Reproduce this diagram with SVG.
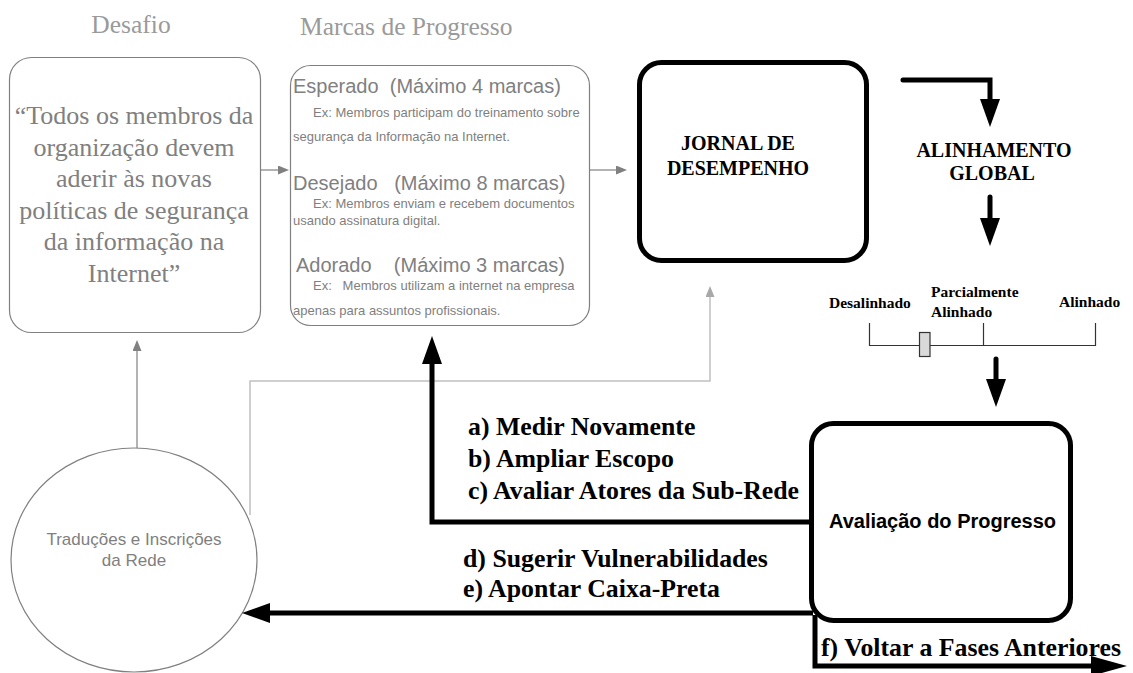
<svg xmlns="http://www.w3.org/2000/svg" width="1133" height="673" viewBox="0 0 1133 673">
  <style>
    .soft { fill: #ffffff; stroke: #808080; stroke-width: 1.2; }
    .bold-box { fill: #ffffff; stroke: #000000; stroke-width: 5; }
    .title { font-family: "Liberation Serif", "Times New Roman", serif; font-size: 25.5px; fill: #9a9a9a; }
    .quote { font-family: "Liberation Serif", "Times New Roman", serif; font-size: 26px; fill: #808080; text-anchor: middle; }
    .head { font-family: "Liberation Sans", Arial, sans-serif; font-size: 20px; fill: #808080; }
    .ex { font-family: "Liberation Sans", Arial, sans-serif; font-size: 13px; fill: #808080; }
    .node-b { font-family: "Liberation Serif", "Times New Roman", serif; font-size: 20px; font-weight: bold; fill: #000; text-anchor: middle; }
    .scale-lbl { font-family: "Liberation Serif", "Times New Roman", serif; font-size: 15.5px; font-weight: bold; fill: #000; }
    .step { font-family: "Liberation Serif", "Times New Roman", serif; font-size: 25.8px; font-weight: bold; fill: #000; }
    .thick { fill: none; stroke: #000; stroke-width: 5; stroke-linejoin: miter; }
    .thin-gray { fill: none; stroke: #808080; stroke-width: 1.2; }
    .light-gray { fill: none; stroke: #c0c0c0; stroke-width: 1.5; }
  </style>
  <defs>
    <marker id="head-black" viewBox="0 0 28 20" markerWidth="28" markerHeight="20" refX="1" refY="10" orient="auto" markerUnits="userSpaceOnUse">
      <path d="M0,0 L28,10 L0,20 z" fill="#000"/>
    </marker>
    <marker id="head-black-long" viewBox="0 0 36 20" markerWidth="36" markerHeight="20" refX="1" refY="10" orient="auto" markerUnits="userSpaceOnUse">
      <path d="M0,0 L36,10 L0,20 z" fill="#000"/>
    </marker>
    <marker id="head-gray" viewBox="0 0 11 9" markerWidth="11" markerHeight="9" refX="1" refY="4.5" orient="auto" markerUnits="userSpaceOnUse">
      <path d="M0,0 L11,4.5 L0,9 z" fill="#808080"/>
    </marker>
    <marker id="head-light" viewBox="0 0 11 9" markerWidth="11" markerHeight="9" refX="1" refY="4.5" orient="auto" markerUnits="userSpaceOnUse">
      <path d="M0,0 L11,4.5 L0,9 z" fill="#a8a8a8"/>
    </marker>
  </defs>

  <rect width="1133" height="673" fill="#ffffff"/>

  <!-- column titles -->
  <text class="title" x="131" y="33" text-anchor="middle">Desafio</text>
  <text class="title" x="300" y="35">Marcas de Progresso</text>

  <g id="desafio">
    <rect class="soft" x="9.5" y="57.5" width="251" height="275" rx="22"/>
    <text class="quote" x="134" y="124">“Todos os membros da</text>
    <text class="quote" x="134" y="155.5">organização devem</text>
    <text class="quote" x="134" y="187">aderir às novas</text>
    <text class="quote" x="134" y="218.5">políticas de segurança</text>
    <text class="quote" x="134" y="250">da informação na</text>
    <text class="quote" x="134" y="281.5">Internet”</text>
  </g>

  <g id="marcas">
    <rect class="soft" x="290.5" y="65.5" width="299" height="260" rx="20"/>
    <text class="head" x="293" y="93" xml:space="preserve">Esperado  (Máximo 4 marcas)</text>
    <text class="ex" x="313" y="117">Ex: Membros participam do treinamento sobre</text>
    <text class="ex" x="293" y="141">segurança da Informação na Internet.</text>
    <text class="head" x="293" y="190" xml:space="preserve">Desejado   (Máximo 8 marcas)</text>
    <text class="ex" x="313" y="208">Ex: Membros enviam e recebem documentos</text>
    <text class="ex" x="293" y="225">usando assinatura digital.</text>
    <text class="head" x="296" y="272" xml:space="preserve">Adorado    (Máximo 3 marcas)</text>
    <text class="ex" x="313" y="290" xml:space="preserve">Ex:   Membros utilizam a internet na empresa</text>
    <text class="ex" x="293" y="315">apenas para assuntos profissionais.</text>
  </g>

  <g id="jornal">
    <rect class="bold-box" x="639.5" y="62.5" width="227" height="198" rx="22"/>
    <text class="node-b" x="738" y="150">JORNAL DE</text>
    <text class="node-b" x="738" y="175">DESEMPENHO</text>
  </g>

  <g id="alinhamento">
    <text class="node-b" x="994" y="157">ALINHAMENTO</text>
    <text class="node-b" x="992" y="180">GLOBAL</text>
  </g>

  <g id="escala">
    <path d="M869.5,323 V345.5 H1095.5 V323 M983.5,323 V345.5" fill="none" stroke="#333" stroke-width="1.2"/>
    <rect x="919.5" y="332.5" width="10.5" height="24" fill="#d9d9d9" stroke="#333" stroke-width="1.2"/>
    <text class="scale-lbl" x="829" y="308">Desalinhado</text>
    <text class="scale-lbl" x="931" y="297">Parcialmente</text>
    <text class="scale-lbl" x="931" y="317">Alinhado</text>
    <text class="scale-lbl" x="1059" y="307">Alinhado</text>
  </g>

  <g id="avaliacao">
    <rect class="bold-box" x="811.5" y="423.5" width="259" height="197" rx="22"/>
    <text x="942.5" y="528" text-anchor="middle" font-family="Liberation Sans, Arial, sans-serif" font-size="20" font-weight="bold" fill="#000">Avaliação do Progresso</text>
  </g>

  <g id="traducoes">
    <ellipse cx="134" cy="560" rx="123" ry="112" fill="#ffffff" stroke="#808080" stroke-width="1.2"/>
    <text x="134" y="545" text-anchor="middle" font-family="Liberation Sans, Arial, sans-serif" font-size="17" fill="#808080">Traduções e Inscrições</text>
    <text x="134" y="566" text-anchor="middle" font-family="Liberation Sans, Arial, sans-serif" font-size="17" fill="#808080">da Rede</text>
  </g>

  <g id="connectors">
    <!-- gray flow between the upper boxes -->
    <path class="thin-gray" d="M260.5,170 H279" marker-end="url(#head-gray)"/>
    <path class="thin-gray" d="M590,170 H617" marker-end="url(#head-gray)"/>
    <path class="thin-gray" d="M137,448 V350" marker-end="url(#head-gray)"/>
    <path class="light-gray" d="M250,515 V381 H710 V296" marker-end="url(#head-light)"/>

    <!-- thick black flow -->
    <path class="thick" d="M903,80 H990 V100" stroke-width="6" stroke-linecap="round" marker-end="url(#head-black)"/>
    <path class="thick" d="M990,197 V219" stroke-width="6" stroke-linecap="round" marker-end="url(#head-black)"/>
    <path class="thick" d="M996,359 V380" stroke-width="6" stroke-linecap="round" marker-end="url(#head-black)"/>
    <path class="thick" d="M813,522 H432 V363" marker-end="url(#head-black)"/>
    <path class="thick" d="M813,613 H269" marker-end="url(#head-black)"/>
    <path class="thick" d="M815,615 V666 H1092" marker-end="url(#head-black-long)"/>

    <!-- labels on the return paths -->
    <text class="step" x="468" y="435">a) Medir Novamente</text>
    <text class="step" x="468" y="467">b) Ampliar Escopo</text>
    <text class="step" x="468" y="499">c) Avaliar Atores da Sub-Rede</text>
    <text class="step" x="463" y="567">d) Sugerir Vulnerabilidades</text>
    <text class="step" x="463" y="597">e) Apontar Caixa-Preta</text>
    <text class="step" x="821" y="656">f) Voltar a Fases Anteriores</text>
  </g>
</svg>
